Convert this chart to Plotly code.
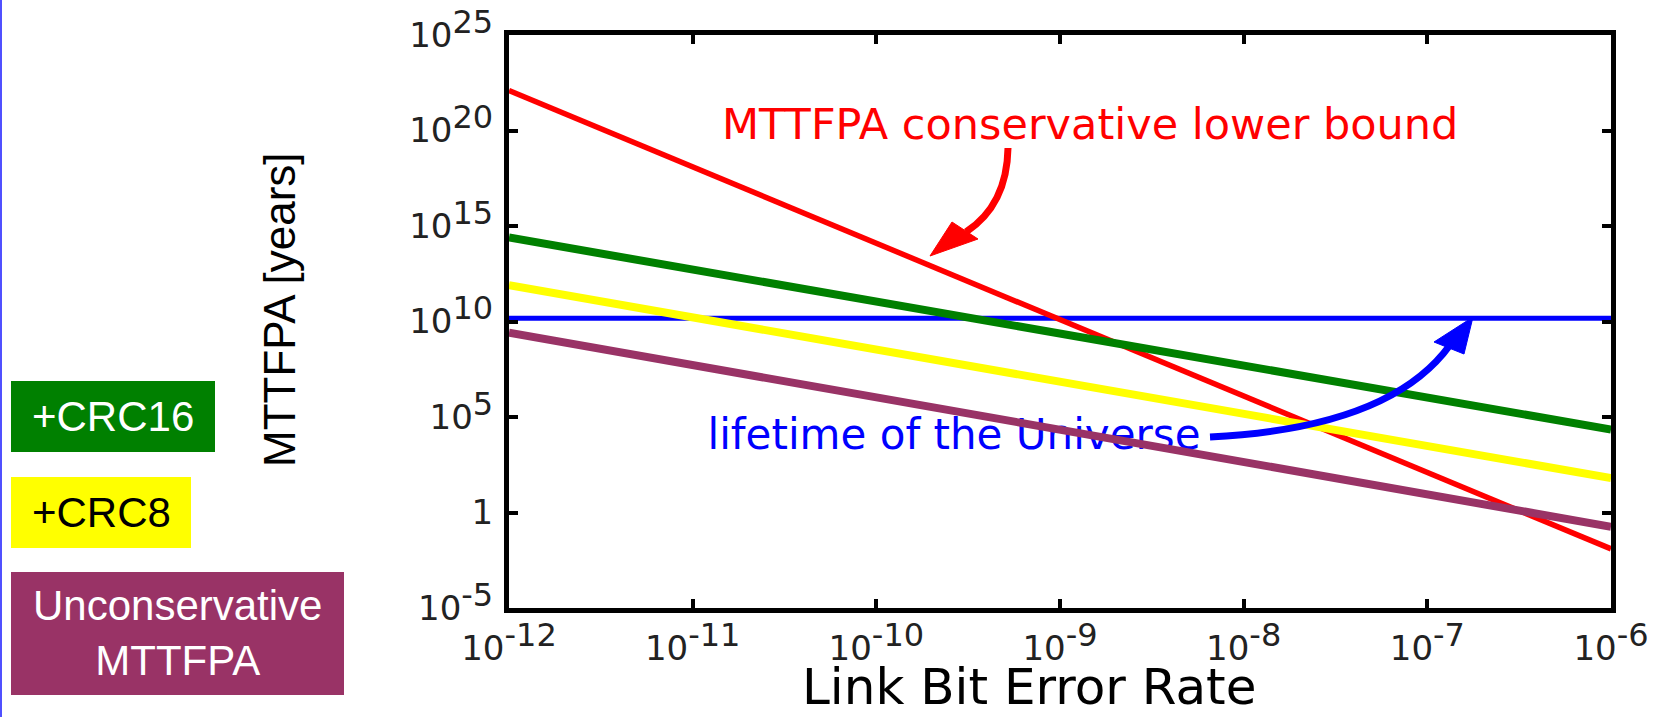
import plotly.graph_objects as go

# ---------------- data ----------------
ber = [1e-12, 1e-11, 1e-10, 1e-9, 1e-8, 1e-7, 1e-6]
mttfpa_lower_bound = [1.25e22, 1.25e18, 1.25e14, 1.25e10, 1.25e6, 125, 0.0125]
mttfpa_crc16 = [2.5e14, 5.3e12, 1.1e11, 2.4e9, 5.0e7, 1.05e6, 2.2e4]
mttfpa_crc8 = [7.9e11, 1.7e10, 3.4e8, 7.1e6, 1.5e5, 3.0e3, 63]
mttfpa_unconservative = [2.6e9, 5.4e7, 1.1e6, 2.2e4, 4.4e2, 8.9, 0.18]
universe_ber = [1e-12, 1e-6]
universe_lifetime = [1.5e10, 1.5e10]

x_tickvals = [1e-12, 1e-11, 1e-10, 1e-9, 1e-8, 1e-7, 1e-6]
x_ticktext = ["-12", "-11", "-10", "-9", "-8", "-7", "-6"]
y_tickvals = [1e-5, 1, 1e5, 1e10, 1e15, 1e20, 1e25]
y_ticktext = ["-5", "", "5", "10", "15", "20", "25"]

# ---------------- layout geometry ----------------
W, H = 1660, 717
PL, PR, PT, PB = 509, 1611, 35, 608
XR = [-12, -6]
YR = [-5, 25]


def fx(p):
    return (p - PL) / (PR - PL)


def fy(p):
    return (PB - p) / (PB - PT)


def dx(p):
    return 10 ** (XR[0] + (p - PL) / (PR - PL) * (XR[1] - XR[0]))


def dy(p):
    return 10 ** (YR[1] - (p - PT) / (PB - PT) * (YR[1] - YR[0]))


CHART_FONT = "DejaVu Sans, Verdana, sans-serif"
BOX_FONT = "Arial, Liberation Sans, sans-serif"
TICK_SIZE = 34
SUP_SIZE = 32


def sup_label(e):
    if e == "":
        return "1"
    return "10<sup><span style='font-size:%dpx'>%s</span></sup>" % (SUP_SIZE, e)


fig = go.Figure()

# label under the lines (the purple line crosses it in the reference)
fig.add_trace(go.Scatter(
    x=[dx(954)], y=[dy(438)], mode="text",
    text=["lifetime of the Universe"],
    textfont=dict(family=CHART_FONT, size=42, color="#0000FF"),
    textposition="middle center", hoverinfo="skip", showlegend=False))

fig.add_trace(go.Scatter(x=universe_ber, y=universe_lifetime, mode="lines",
                         line=dict(color="#0000FF", width=5), showlegend=False))
fig.add_trace(go.Scatter(x=ber, y=mttfpa_lower_bound, mode="lines",
                         line=dict(color="#FF0000", width=5.5), showlegend=False))
fig.add_trace(go.Scatter(x=ber, y=mttfpa_crc16, mode="lines",
                         line=dict(color="#008000", width=8), showlegend=False))
fig.add_trace(go.Scatter(x=ber, y=mttfpa_crc8, mode="lines",
                         line=dict(color="#FFFF00", width=8), showlegend=False))
fig.add_trace(go.Scatter(x=ber, y=mttfpa_unconservative, mode="lines",
                         line=dict(color="#993366", width=8), showlegend=False))

shapes = []
# red curved arrow
shapes.append(dict(type="path", xref="paper", yref="paper",
                   path="M %f,%f Q %f,%f %f,%f" % (fx(1008), fy(148), fx(1007), fy(205), fx(966), fy(232)),
                   line=dict(color="#FF0000", width=7), layer="above"))
shapes.append(dict(type="path", xref="paper", yref="paper",
                   path="M %f,%f L %f,%f L %f,%f Z" % (fx(930), fy(256), fx(952), fy(222), fx(978), fy(239)),
                   line=dict(color="#FF0000", width=1), fillcolor="#FF0000", layer="above"))
# blue curved arrow
shapes.append(dict(type="path", xref="paper", yref="paper",
                   path="M %f,%f Q %f,%f %f,%f" % (fx(1210), fy(437), fx(1390), fy(428), fx(1450), fy(345)),
                   line=dict(color="#0000FF", width=7), layer="above"))
shapes.append(dict(type="path", xref="paper", yref="paper",
                   path="M %f,%f L %f,%f L %f,%f Z" % (fx(1473), fy(317), fx(1434), fy(342), fx(1464), fy(354)),
                   line=dict(color="#0000FF", width=1), fillcolor="#0000FF", layer="above"))

# legend boxes
boxes = [(11, 381, 215, 452, "#008000"), (11, 477, 191, 548, "#FFFF00"), (11, 572, 344, 695, "#993366")]
for x0, y0, x1, y1, c in boxes:
    shapes.append(dict(type="rect", xref="paper", yref="paper",
                       x0=fx(x0), x1=fx(x1), y0=fy(y1), y1=fy(y0),
                       fillcolor=c, line=dict(width=0), layer="above"))
# slide border on the left edge
shapes.append(dict(type="line", xref="paper", yref="paper",
                   x0=fx(1), x1=fx(1), y0=fy(0), y1=fy(H),
                   line=dict(color="#5050FF", width=2)))

annotations = [
    dict(x=fx(1090), y=fy(124), xref="paper", yref="paper", showarrow=False,
         text="MTTFPA conservative lower bound", xanchor="center", yanchor="middle",
         font=dict(family=CHART_FONT, size=43, color="#FF0000")),
    dict(x=fx(1029), y=fy(687), xref="paper", yref="paper", showarrow=False,
         text="Link Bit Error Rate", xanchor="center", yanchor="middle",
         font=dict(family=CHART_FONT, size=50, color="#000000")),
    dict(x=fx(279), y=fy(310), xref="paper", yref="paper", showarrow=False,
         text="MTTFPA [years]", textangle=-90, xanchor="center", yanchor="middle",
         font=dict(family="Arial, Liberation Sans", size=44, color="#000000")),
    dict(x=fx(30), y=fy(416), xref="paper", yref="paper", showarrow=False,
         text="+CRC16", xanchor="left", yanchor="middle",
         font=dict(family=BOX_FONT, size=42, color="#FFFFFF")),
    dict(x=fx(30), y=fy(512), xref="paper", yref="paper", showarrow=False,
         text="+CRC8", xanchor="left", yanchor="middle",
         font=dict(family=BOX_FONT, size=42, color="#000000")),
    dict(x=fx(177.5), y=fy(633), xref="paper", yref="paper", showarrow=False,
         text="Unconservative<br>MTTFPA", xanchor="center", yanchor="middle", align="center",
         font=dict(family=BOX_FONT, size=42, color="#FFFFFF")),
]

fig.update_layout(
    width=W, height=H, autosize=False,
    margin=dict(l=PL, r=W - PR, t=PT, b=H - PB, pad=0),
    paper_bgcolor="white", plot_bgcolor="white",
    showlegend=False,
    shapes=shapes, annotations=annotations,
    xaxis=dict(type="log", range=XR, tickvals=x_tickvals,
               ticktext=[sup_label(e) for e in x_ticktext],
               ticks="inside", ticklen=9, tickwidth=4, tickcolor="black",
               showline=True, linecolor="black", linewidth=5, mirror="ticks",
               showgrid=False, zeroline=False, automargin=False,
               ticklabelstandoff=6,
               tickfont=dict(family=CHART_FONT, size=TICK_SIZE, color="#222222")),
    yaxis=dict(type="log", range=YR, tickvals=y_tickvals,
               ticktext=[sup_label(e) for e in y_ticktext],
               ticks="inside", ticklen=9, tickwidth=4, tickcolor="black",
               showline=True, linecolor="black", linewidth=5, mirror="ticks",
               showgrid=False, zeroline=False, automargin=False,
               ticklabelstandoff=4,
               tickfont=dict(family=CHART_FONT, size=TICK_SIZE, color="#222222")),
)

fig.write_html(
    "out.html",
    config={"displayModeBar": False},
    post_script="document.body.style.margin='0';document.body.style.padding='0';"
                "document.documentElement.style.overflow='hidden';",
)
